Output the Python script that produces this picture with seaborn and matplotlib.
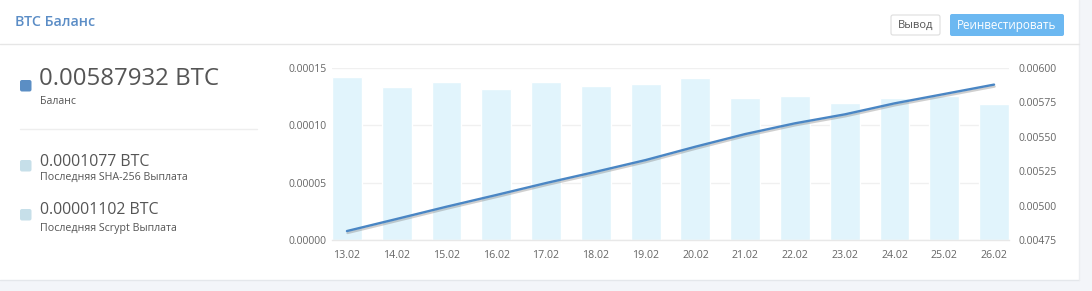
import numpy as np
import pandas as pd
import matplotlib
matplotlib.use("Agg")
import matplotlib.pyplot as plt
import matplotlib.patheffects as pe
from matplotlib.patches import Rectangle, FancyBboxPatch
from matplotlib.ticker import FuncFormatter
import seaborn as sns

# ---------------- data ----------------
dates = ["13.02", "14.02", "15.02", "16.02", "17.02", "18.02", "19.02",
         "20.02", "21.02", "22.02", "23.02", "24.02", "25.02", "26.02"]
payouts = [0.0001422, 0.0001337, 0.0001375, 0.0001317, 0.0001381, 0.0001340, 0.0001358,
           0.0001413, 0.0001241, 0.0001253, 0.0001195, 0.0001241, 0.0001253, 0.0001189]
balance = [0.004815, 0.004903, 0.004992, 0.005077, 0.005164, 0.005246, 0.005331,
           0.005428, 0.005520, 0.005598, 0.005663, 0.005743, 0.005811, 0.00587932]
left_ticks = [0.0, 0.00005, 0.00010, 0.00015]
right_ticks = [0.00475, 0.00500, 0.00525, 0.00550, 0.00575, 0.00600]

title = "BTC Баланс"
btn_out = "Вывод"
btn_reinvest = "Реинвестировать"
main_value = "0.00587932 BTC"
main_label = "Баланс"
sha_value = "0.0001077 BTC"
sha_label = "Последняя SHA-256 Выплата"
scrypt_value = "0.00001102 BTC"
scrypt_label = "Последняя Scrypt Выплата"

# ---------------- style ----------------
sns.set_theme(style="white")
plt.rcParams["font.family"] = ["Open Sans", "DejaVu Sans"]

W, H = 1092, 291
fig = plt.figure(figsize=(W / 100, H / 100), dpi=100)
fig.patch.set_facecolor("#f3f5f9")

# background/layout axes in pixel coordinates
bg = fig.add_axes([0, 0, 1, 1], zorder=0)
bg.set_xlim(0, W)
bg.set_ylim(H, 0)
bg.axis("off")

bg.add_patch(Rectangle((0, 0), 1079, 280, facecolor="white", edgecolor="none"))
bg.plot([0, 1079], [280, 280], color="#e4e7eb", lw=1)
bg.plot([1079, 1079], [0, 280], color="#eceef1", lw=1)
bg.plot([0, 1079], [44, 44], color="#e6e6e6", lw=1)

bg.text(15, 22, title, color="#5b8dc6", fontsize=10.3, fontweight="semibold", va="center", ha="left")

bg.add_patch(FancyBboxPatch((891, 15), 49, 20, boxstyle="round,pad=0,rounding_size=2",
                            facecolor="white", edgecolor="#dddddd", lw=0.8))
bg.text(915.5, 25, btn_out, color="#555555", fontsize=8, va="center", ha="center")
bg.add_patch(FancyBboxPatch((950, 14), 114, 22, boxstyle="round,pad=0,rounding_size=2",
                            facecolor="#6cb8f1", edgecolor="none"))
bg.text(1007, 25, btn_reinvest, color="white", fontsize=8.4, va="center", ha="center")

# legend-like summary
bg.add_patch(FancyBboxPatch((20, 80), 11.5, 11.5, boxstyle="round,pad=0,rounding_size=2",
                            facecolor="#5b8ec4", edgecolor="none"))
bg.text(39, 85, main_value, color="#555555", fontsize=17.3, va="baseline", ha="left")
bg.text(40, 104, main_label, color="#555555", fontsize=7.6, va="baseline", ha="left")
bg.plot([20, 257], [129, 129], color="#eeeeee", lw=1)

bg.add_patch(FancyBboxPatch((20, 160), 11.5, 11.5, boxstyle="round,pad=0,rounding_size=2",
                            facecolor="#c6dfe9", edgecolor="none"))
bg.text(40, 166, sha_value, color="#555555", fontsize=11.4, va="baseline", ha="left")
bg.text(40, 180, sha_label, color="#555555", fontsize=7.7, va="baseline", ha="left")

bg.add_patch(FancyBboxPatch((20, 209), 11.5, 11.5, boxstyle="round,pad=0,rounding_size=2",
                            facecolor="#c6dfe9", edgecolor="none"))
bg.text(40, 214, scrypt_value, color="#555555", fontsize=11.4, va="baseline", ha="left")
bg.text(40, 231, scrypt_label, color="#555555", fontsize=7.7, va="baseline", ha="left")

# ---------------- chart ----------------
x0, x1, y_top, y_bot = 332, 1009, 68, 240
ax = fig.add_axes([x0 / W, (H - y_bot) / H, (x1 - x0) / W, (y_bot - y_top) / H], zorder=2)
ax.patch.set_alpha(0)

df = pd.DataFrame({"date": dates, "payout": payouts, "balance": balance})
df["pos"] = np.arange(len(df))

sns.barplot(data=df, x="date", y="payout", color="#e1f4fc", saturation=1,
            width=0.6, ax=ax, zorder=1)
ax.set_xlim(-0.3, len(dates) - 0.7)
ax.set_ylim(left_ticks[0], left_ticks[-1])
ax.set_yticks(left_ticks)
ax.yaxis.set_major_formatter(FuncFormatter(lambda v, p: f"{v:.5f}"))
ax.grid(axis="y", color="#f0f0f0", lw=1)
ax.set_axisbelow(True)
ax.set_xlabel("")
ax.set_ylabel("")
for s in ["top", "left", "right"]:
    ax.spines[s].set_visible(False)
ax.spines["bottom"].set_color("#e8e8e8")
ax.spines["bottom"].set_linewidth(1)
ax.tick_params(axis="x", length=0, pad=7, labelsize=7.7, labelcolor="#666666")
ax.tick_params(axis="y", length=0, pad=4, labelsize=7.5, labelcolor="#666666")

ax2 = ax.twinx()
sns.lineplot(data=df, x="pos", y="balance", color="#4a86c4", lw=1.7, ax=ax2,
             path_effects=[pe.SimpleLineShadow(offset=(0.4, -1.4), shadow_color="#777777", alpha=0.35),
                           pe.Normal()])
ax2.set_xlim(-0.3, len(dates) - 0.7)
ax2.set_ylim(right_ticks[0], right_ticks[-1])
ax2.set_yticks(right_ticks)
ax2.yaxis.set_major_formatter(FuncFormatter(lambda v, p: f"{v:.5f}"))
ax2.set_xlabel("")
ax2.set_ylabel("")
ax2.grid(False)
for s in ["top", "left", "right", "bottom"]:
    ax2.spines[s].set_visible(False)
ax2.tick_params(axis="y", length=0, pad=7, labelsize=7.5, labelcolor="#666666")

fig.savefig("out.png", dpi=100, facecolor=fig.get_facecolor())
